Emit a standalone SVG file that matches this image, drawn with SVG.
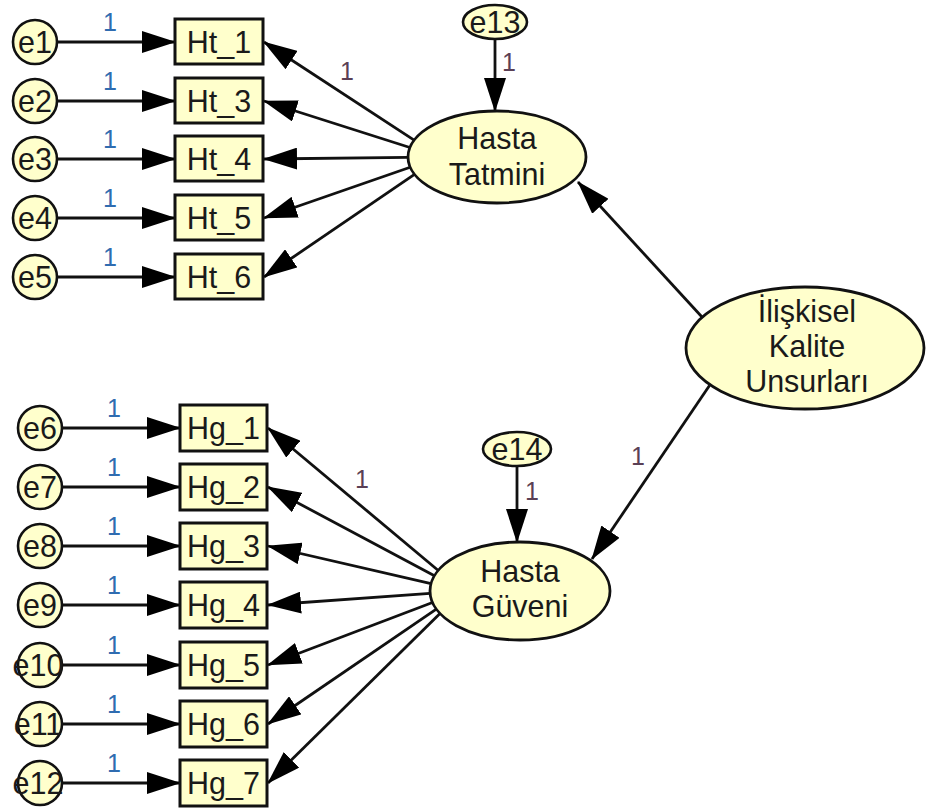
<svg xmlns="http://www.w3.org/2000/svg" width="926" height="809" viewBox="0 0 926 809">
  <style>
    .box { fill: #ffffcc; stroke: #111; stroke-width: 3; }
    .lat { fill: #ffffcc; stroke: #111; stroke-width: 2.8; }
    .err { fill: #ffffcc; stroke: #111; stroke-width: 2.6; }
    .lbl { font-family: "Liberation Sans", Arial, sans-serif; font-size: 30.5px; fill: #1a1a1a; text-anchor: middle; }
    .w { font-family: "Liberation Sans", Arial, sans-serif; font-size: 25px; text-anchor: middle; }
    .wl { fill: #2f6cb0; }
    .wd { fill: #5a3f55; }
    .path { stroke: #111; stroke-width: 2.8; fill: none; marker-end: url(#arrow); }
  </style>
  <defs>
    <marker id="arrow" markerUnits="userSpaceOnUse" markerWidth="34" markerHeight="22" refX="33" refY="11" orient="auto">
      <path d="M0,0 L34,11 L0,22 Z" fill="#000"/>
    </marker>
  </defs>
  <rect width="926" height="809" fill="#fff"/>

  <g id="connectors">
    <!-- error terms to indicators -->
    <line class="path" x1="57" y1="42" x2="175" y2="42"/>
    <line class="path" x1="57" y1="101" x2="175" y2="101"/>
    <line class="path" x1="57" y1="159" x2="175" y2="159"/>
    <line class="path" x1="57" y1="218" x2="175" y2="218"/>
    <line class="path" x1="57" y1="277" x2="175" y2="277"/>
    <line class="path" x1="62" y1="428" x2="180" y2="428"/>
    <line class="path" x1="62" y1="487" x2="180" y2="487"/>
    <line class="path" x1="62" y1="546" x2="180" y2="546"/>
    <line class="path" x1="62" y1="605" x2="180" y2="605"/>
    <line class="path" x1="62" y1="665" x2="180" y2="665"/>
    <line class="path" x1="62" y1="724" x2="180" y2="724"/>
    <line class="path" x1="62" y1="783" x2="180" y2="783"/>
    <!-- Hasta Tatmini loadings -->
    <line class="path" x1="414.1" y1="140.2" x2="264" y2="42"/>
    <line class="path" x1="409.9" y1="147.5" x2="264" y2="101"/>
    <line class="path" x1="408" y1="157.4" x2="264" y2="159"/>
    <line class="path" x1="410.2" y1="167.3" x2="264" y2="218"/>
    <line class="path" x1="414.5" y1="174.3" x2="264" y2="277"/>
    <!-- Hasta Guveni loadings -->
    <line class="path" x1="438.3" y1="570.5" x2="268" y2="428"/>
    <line class="path" x1="434.4" y1="575.8" x2="268" y2="487"/>
    <line class="path" x1="431" y1="583.7" x2="268" y2="546"/>
    <line class="path" x1="430.1" y1="593.3" x2="268" y2="605"/>
    <line class="path" x1="432.5" y1="602.5" x2="268" y2="665"/>
    <line class="path" x1="436.3" y1="609.1" x2="268" y2="724"/>
    <line class="path" x1="440" y1="613.5" x2="268" y2="783"/>
    <!-- disturbances -->
    <line class="path" x1="495" y1="39" x2="495" y2="111"/>
    <line class="path" x1="517" y1="466" x2="517" y2="542"/>
    <!-- second-order factor -->
    <line class="path" x1="702" y1="317" x2="578" y2="182"/>
    <line class="path" x1="709.5" y1="385.5" x2="592" y2="559"/>
  </g>

  <g id="weights">
    <text class="w wl" x="110" y="31">1</text>
    <text class="w wl" x="110" y="90">1</text>
    <text class="w wl" x="110" y="148">1</text>
    <text class="w wl" x="110" y="207">1</text>
    <text class="w wl" x="110" y="266">1</text>
    <text class="w wl" x="114" y="417">1</text>
    <text class="w wl" x="114" y="476">1</text>
    <text class="w wl" x="114" y="535">1</text>
    <text class="w wl" x="114" y="594">1</text>
    <text class="w wl" x="114" y="654">1</text>
    <text class="w wl" x="114" y="713">1</text>
    <text class="w wl" x="114" y="772">1</text>
    <text class="w wd" x="347" y="80">1</text>
    <text class="w wd" x="362" y="488">1</text>
    <text class="w wd" x="509" y="71">1</text>
    <text class="w wd" x="532" y="500">1</text>
    <text class="w wd" x="638" y="465">1</text>
  </g>

  <!-- error terms -->
  <g id="e1"><circle class="err" cx="35" cy="42" r="22"/><text class="lbl" x="35" y="53">e1</text></g>
  <g id="e2"><circle class="err" cx="35" cy="101" r="22"/><text class="lbl" x="35" y="112">e2</text></g>
  <g id="e3"><circle class="err" cx="35" cy="159" r="22"/><text class="lbl" x="35" y="170">e3</text></g>
  <g id="e4"><circle class="err" cx="35" cy="218" r="22"/><text class="lbl" x="35" y="229">e4</text></g>
  <g id="e5"><circle class="err" cx="35" cy="277" r="22"/><text class="lbl" x="35" y="288">e5</text></g>
  <g id="e6"><circle class="err" cx="40" cy="428" r="22"/><text class="lbl" x="40" y="439">e6</text></g>
  <g id="e7"><circle class="err" cx="40" cy="487" r="22"/><text class="lbl" x="40" y="498">e7</text></g>
  <g id="e8"><circle class="err" cx="40" cy="546" r="22"/><text class="lbl" x="40" y="557">e8</text></g>
  <g id="e9"><circle class="err" cx="40" cy="605" r="22"/><text class="lbl" x="40" y="616">e9</text></g>
  <g id="e10"><circle class="err" cx="40" cy="665" r="22"/><text class="lbl" x="38" y="676">e10</text></g>
  <g id="e11"><circle class="err" cx="40" cy="724" r="22"/><text class="lbl" x="38" y="735">e11</text></g>
  <g id="e12"><circle class="err" cx="40" cy="783" r="22"/><text class="lbl" x="38" y="794">e12</text></g>
  <g id="e13"><ellipse class="err" cx="495" cy="22" rx="32" ry="17"/><text class="lbl" x="495" y="33">e13</text></g>
  <g id="e14"><ellipse class="err" cx="517" cy="449" rx="34" ry="17"/><text class="lbl" x="517" y="460">e14</text></g>

  <!-- observed indicators -->
  <g id="Ht_1"><rect class="box" x="175" y="19" width="88" height="45"/><text class="lbl" x="219" y="52.5">Ht_1</text></g>
  <g id="Ht_3"><rect class="box" x="175" y="78" width="88" height="45"/><text class="lbl" x="219" y="111.5">Ht_3</text></g>
  <g id="Ht_4"><rect class="box" x="175" y="136" width="88" height="45"/><text class="lbl" x="219" y="169.5">Ht_4</text></g>
  <g id="Ht_5"><rect class="box" x="175" y="195" width="88" height="45"/><text class="lbl" x="219" y="228.5">Ht_5</text></g>
  <g id="Ht_6"><rect class="box" x="175" y="254" width="88" height="45"/><text class="lbl" x="219" y="287.5">Ht_6</text></g>
  <g id="Hg_1"><rect class="box" x="180" y="405" width="87" height="46"/><text class="lbl" x="223.5" y="438.5">Hg_1</text></g>
  <g id="Hg_2"><rect class="box" x="180" y="464" width="87" height="46"/><text class="lbl" x="223.5" y="497.5">Hg_2</text></g>
  <g id="Hg_3"><rect class="box" x="180" y="523" width="87" height="46"/><text class="lbl" x="223.5" y="556.5">Hg_3</text></g>
  <g id="Hg_4"><rect class="box" x="180" y="582" width="87" height="46"/><text class="lbl" x="223.5" y="615.5">Hg_4</text></g>
  <g id="Hg_5"><rect class="box" x="180" y="642" width="87" height="46"/><text class="lbl" x="223.5" y="675.5">Hg_5</text></g>
  <g id="Hg_6"><rect class="box" x="180" y="701" width="87" height="46"/><text class="lbl" x="223.5" y="734.5">Hg_6</text></g>
  <g id="Hg_7"><rect class="box" x="180" y="760" width="87" height="46"/><text class="lbl" x="223.5" y="793.5">Hg_7</text></g>

  <!-- latent factors -->
  <g id="hasta-tatmini">
    <ellipse class="lat" cx="497" cy="157" rx="89" ry="46"/>
    <text class="lbl" x="497" y="149">Hasta</text>
    <text class="lbl" x="497" y="185">Tatmini</text>
  </g>
  <g id="hasta-guveni">
    <ellipse class="lat" cx="520" cy="591" rx="90" ry="49"/>
    <text class="lbl" x="520" y="582">Hasta</text>
    <text class="lbl" x="520" y="617">Güveni</text>
  </g>
  <g id="iliskisel-kalite">
    <ellipse class="lat" cx="805" cy="348" rx="119" ry="61"/>
    <text class="lbl" x="807" y="322">İlişkisel</text>
    <text class="lbl" x="807" y="357">Kalite</text>
    <text class="lbl" x="807" y="392">Unsurları</text>
  </g>
</svg>
